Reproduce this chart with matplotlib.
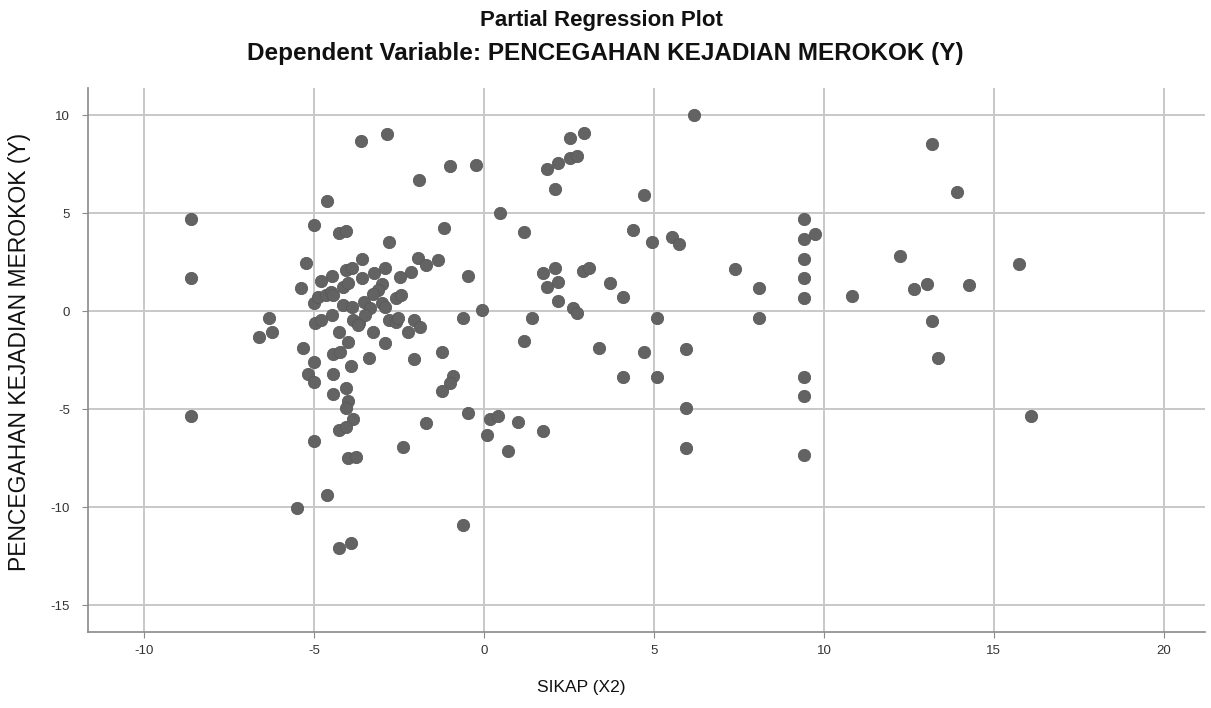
import matplotlib
matplotlib.use("Agg")
import matplotlib.pyplot as plt

# partial regression residuals
sikap = [
    -8.63, -8.63, -8.63,
    -6.34, -6.25, -6.63, -5.34, -5.25, -5.37, -5.01, -4.81, -5.01, -4.87, -4.66, -4.51, -4.43,
    -4.96, -4.81, -4.99, -5.19, -4.99, -4.99, -4.63, -4.28, -4.07, -2.81, -1.93, -1.72, -1.34,
    -3.60, -4.46, -4.07, -3.87, -3.25, -2.90, -2.46, -2.16, -4.16, -3.99, -3.60, -2.99, -3.13,
    -3.28, -4.16, -3.87, -3.54, -3.34, -2.99, -2.90, -2.60, -2.43, -4.46, -3.84, -3.69, -3.49,
    -3.72, -2.81, -2.60, -2.54, -2.07, -1.87, -4.28, -3.28, -2.25, -3.99, -2.90, -4.43, -4.25,
    -3.37, -2.07, -3.90, -4.43, -4.07, -4.43, -4.01, -4.07, -3.84, -4.28, -4.07, -2.37, -3.99,
    -3.78, -4.63, -5.51, -4.28, -3.90,
    -1.90, -2.84, -3.62, -1.01, -0.25, -1.19, -0.46, -0.07, -0.63, -1.25, -0.90, -0.99, -1.25,
    -0.46, -1.72, 0.19, 0.40, 1.01, 1.75, 0.10, 0.72, -0.63,
    0.46, 1.19, 1.84, 2.19, 2.54, 2.93, 2.54, 2.75, 2.10, 1.75, 2.10, 2.90, 3.10, 1.84, 2.19,
    3.72, 2.19, 2.63, 2.75, 1.40, 1.19, 3.37, 4.10, 4.37, 4.72, 4.93, 5.54, 5.75, 5.10, 4.72,
    5.93, 4.10, 5.10, 5.93, 5.93, 6.19,
    7.37, 8.10, 8.10, 9.40, 9.40, 9.75, 9.40, 9.40, 9.40, 10.84, 9.40, 9.40, 9.40,
    12.24, 12.66, 13.04, 14.28, 15.75, 13.19, 13.93, 13.19, 13.37, 16.10,
]
pencegahan = [
    4.69, 1.68, -5.36,
    -0.36, -1.07, -1.33, -1.89, 2.45, 1.17, 4.39, 1.53, 0.41, 0.71, 0.82, 0.97, 0.82,
    -0.61, -0.46, -2.60, -3.21, -3.62, -6.63, 5.61, 3.98, 4.08, 3.52, 2.70, 2.35, 2.60,
    2.65, 1.79, 2.09, 2.19, 1.94, 2.19, 1.73, 1.99, 1.22, 1.43, 1.68, 1.38, 1.07,
    0.87, 0.31, 0.20, 0.46, 0.15, 0.41, 0.20, 0.66, 0.82, -0.20, -0.46, -0.61, -0.20,
    -0.71, -0.46, -0.56, -0.36, -0.46, -0.82, -1.07, -1.07, -1.07, -1.58, -1.63, -2.19, -2.09,
    -2.40, -2.45, -2.81, -3.21, -3.93, -4.23, -4.59, -4.95, -5.51, -6.07, -5.92, -6.94, -7.50,
    -7.45, -9.39, -10.05, -12.09, -11.84,
    6.68, 9.03, 8.67, 7.40, 7.45, 4.23, 1.79, 0.05, -0.36, -2.09, -3.32, -3.67, -4.08,
    -5.20, -5.71, -5.51, -5.36, -5.66, -6.12, -6.33, -7.14, -10.92,
    5.00, 4.03, 7.24, 7.55, 8.83, 9.08, 7.81, 7.91, 6.22, 1.94, 2.19, 2.04, 2.19, 1.22, 1.48,
    1.43, 0.51, 0.15, -0.10, -0.36, -1.53, -1.89, 0.71, 4.13, 5.92, 3.52, 3.78, 3.42, -0.36, -2.09,
    -1.94, -3.37, -3.37, -4.95, -6.99, 10.0,
    2.14, 1.17, -0.36, 4.69, 3.67, 3.93, 2.65, 1.68, 0.66, 0.77, -3.37, -4.34, -7.35,
    2.84, 1.12, 1.38, 1.33, 2.40, 8.52, 6.07, -0.51, -2.40, -5.36,
]

x_ticks = [-10, -5, 0, 5, 10, 15, 20]
y_ticks = [10, 5, 0, -5, -10, -15]

plt.rcParams['font.family'] = ['Liberation Sans', 'DejaVu Sans']
plt.rcParams['axes.unicode_minus'] = False

fig = plt.figure(figsize=(12.11, 7.08), dpi=100)
ax = fig.add_axes([0.0727, 0.107, 0.922, 0.769])

ax.scatter(sikap, pencegahan, s=78, color='#636363', edgecolors='#5a5a5a',
           linewidths=0.6, zorder=3)

ax.set_xlim(-11.65, 21.2)
ax.set_ylim(-16.38, 11.4)
ax.set_xticks(x_ticks)
ax.set_yticks(y_ticks)
ax.grid(True, color='#c8c8c8', linewidth=1.4, zorder=0)
ax.set_axisbelow(True)

for side in ['top', 'right']:
    ax.spines[side].set_visible(False)
for side in ['left', 'bottom']:
    ax.spines[side].set_color('#8a8a8a')
    ax.spines[side].set_linewidth(1.2)
ax.tick_params(colors='#8a8a8a', length=4, labelsize=9.5, labelcolor='#333333', pad=5)
ax.tick_params(axis='y', pad=9)

ax.set_xlabel('SIKAP (X2)', fontsize=12.5, color='#111111')
ax.xaxis.set_label_coords(0.442, -0.088)
ax.set_ylabel('PENCEGAHAN KEJADIAN MEROKOK (Y)', fontsize=16.5, color='#111111')
ax.yaxis.set_label_coords(-0.051, 0.514)

fig.text(0.497, 0.971, 'Partial Regression Plot', ha='center', va='center',
         fontsize=16, fontweight='bold', color='#111111')
fig.text(0.5, 0.925, 'Dependent Variable: PENCEGAHAN KEJADIAN MEROKOK (Y)', ha='center',
         va='center', fontsize=17.5, fontweight='bold', color='#111111')

fig.savefig('out.png', dpi=100)
